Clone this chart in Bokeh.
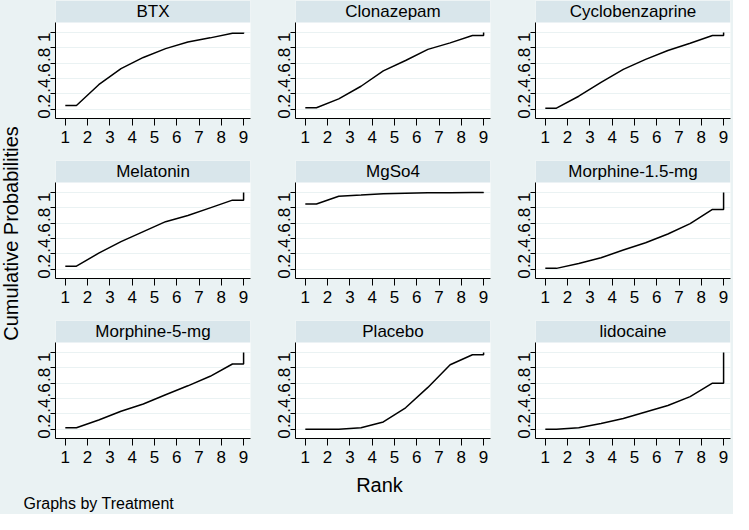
import math
from bokeh.plotting import figure
from bokeh.layouts import row, column
from bokeh.models import FixedTicker, Range1d, Label, BoxAnnotation
from bokeh.embed import file_html
from bokeh.resources import INLINE

# ---- data ----
treatments = ["BTX", "Clonazepam", "Cyclobenzaprine",
              "Melatonin", "MgSo4", "Morphine-1.5-mg",
              "Morphine-5-mg", "Placebo", "lidocaine"]
ranks = [1, 2, 3, 4, 5, 6, 7, 8, 9]
cum_btx = [0.05, 0.32, 0.53, 0.675, 0.79, 0.875, 0.93, 0.99, 1.0]
cum_clonazepam = [0.02, 0.135, 0.30, 0.50, 0.635, 0.78, 0.865, 0.96, 1.0]
cum_cyclobenzaprine = [0.015, 0.17, 0.35, 0.52, 0.65, 0.765, 0.86, 0.96, 1.0]
cum_melatonin = [0.04, 0.21, 0.36, 0.49, 0.62, 0.70, 0.80, 0.90, 1.0]
cum_mgso4 = [0.85, 0.95, 0.966, 0.983, 0.99, 0.995, 0.998, 0.999, 1.0]
cum_morphine15 = [0.012, 0.075, 0.15, 0.25, 0.345, 0.46, 0.595, 0.78, 1.0]
cum_morphine5 = [0.02, 0.12, 0.235, 0.33, 0.45, 0.566, 0.69, 0.85, 1.0]
cum_placebo = [0.0, 0.002, 0.02, 0.095, 0.28, 0.545, 0.84, 0.97, 1.0]
cum_lidocaine = [0.0, 0.02, 0.075, 0.14, 0.225, 0.31, 0.425, 0.60, 1.0]
series = [cum_btx, cum_clonazepam, cum_cyclobenzaprine,
          cum_melatonin, cum_mgso4, cum_morphine15,
          cum_morphine5, cum_placebo, cum_lidocaine]
y_ticks = [0, 0.2, 0.4, 0.6, 0.8, 1]
y_tick_labels = ["0", ".2", ".4", ".6", ".8", "1"]
x_ticks = ranks

# ---- style ----
BG = "#EAF2F3"
BAR = "#D9E6EB"
FONT = "Liberation Sans"

X0, X1 = 0.56, 9.31
Y0, Y1 = -0.12, 1.13
FRAME_H = 96
BAR_H = 22
BAR_TOP = Y1 + (Y1 - Y0) * BAR_H / FRAME_H


def step_path(rk, cum):
    # Stata-style path: flat first half-step, mid-rank points, flat end, jump to 1
    xs = [rk[0]] + [r + 0.5 for r in rk[:-1]] + [rk[-1], rk[-1]]
    ys = [cum[0]] + list(cum[:-1]) + [cum[-2], cum[-1]]
    return xs, ys


def panel(name, cum, ci, ri):
    right = 17 if ci < 2 else 3
    bottom = 42 if ri < 2 else 30
    w = 28 + 195 + right
    h = BAR_H + FRAME_H + bottom
    p = figure(width=w, height=h, output_backend="svg", toolbar_location=None,
               title=None,
               x_range=Range1d(X0, X1), y_range=Range1d(Y0, BAR_TOP),
               min_border_left=28, min_border_right=right,
               min_border_top=0, min_border_bottom=bottom,
               background_fill_color="white", border_fill_color=BG,
               outline_line_color=None)

    p.xaxis.ticker = FixedTicker(ticks=x_ticks)
    p.yaxis.ticker = FixedTicker(ticks=y_ticks)
    p.yaxis.bounds = (Y0, Y1)
    p.yaxis.major_label_overrides = dict(zip(y_ticks, y_tick_labels))
    p.yaxis.major_label_orientation = math.pi / 2
    for ax in (p.xaxis, p.yaxis):
        ax.axis_line_color = "black"
        ax.axis_line_width = 1
        ax.major_tick_line_color = "black"
        ax.major_tick_in = 0
        ax.minor_tick_line_color = None
        ax.major_label_text_font = FONT
        ax.major_label_text_font_size = "17px"
        ax.major_label_text_color = "black"
    p.xaxis.major_tick_out = 7
    p.yaxis.major_tick_out = 5
    p.xaxis.major_label_standoff = 5
    p.yaxis.major_label_standoff = 6
    p.xgrid.visible = False
    p.ygrid.ticker = FixedTicker(ticks=y_ticks)
    p.ygrid.grid_line_color = BG
    p.ygrid.grid_line_width = 1

    # subtitle bar of the panel
    p.add_layout(BoxAnnotation(bottom=Y1, fill_color=BAR, fill_alpha=1.0,
                               line_color=None, level="underlay"))
    p.add_layout(Label(x=(X0 + X1) / 2, y=(Y1 + BAR_TOP) / 2, text=name,
                       text_align="center", text_baseline="middle",
                       text_font=FONT, text_font_size="17px", text_color="black"))

    xs, ys = step_path(ranks, cum)
    p.line(xs, ys, line_color="black", line_width=1.5)
    return p


panels = [panel(n, s, i % 3, i // 3) for i, (n, s) in enumerate(zip(treatments, series))]
sty = {"background-color": BG}
grid = column(row(panels[0:3], styles=sty), row(panels[3:6], styles=sty),
              row(panels[6:9], styles=sty), styles=sty)

grid_h = 2 * (BAR_H + FRAME_H + 42) + (BAR_H + FRAME_H + 30)
ylab = figure(width=27, height=grid_h, output_backend="svg", toolbar_location=None,
              x_range=Range1d(0, 27), y_range=Range1d(0, grid_h),
              x_axis_type=None, y_axis_type=None, min_border=0,
              background_fill_color=BG, border_fill_color=BG, outline_line_color=None)
ylab.grid.visible = False
ylab.add_layout(Label(x=10, y=grid_h - 233, text="Cumulative Probabilities", angle=math.pi / 2,
                      text_align="center", text_baseline="middle", text_font=FONT,
                      text_font_size="20px", text_color="black"))

bot_h = 514 - grid_h
bottom_fig = figure(width=733, height=bot_h, output_backend="svg", toolbar_location=None,
                    x_range=Range1d(0, 733), y_range=Range1d(0, bot_h),
                    x_axis_type=None, y_axis_type=None, min_border=0,
                    background_fill_color=BG, border_fill_color=BG, outline_line_color=None)
bottom_fig.grid.visible = False
bottom_fig.add_layout(Label(x=379, y=bot_h - 16, text="Rank", text_align="center",
                            text_baseline="middle", text_font=FONT, text_font_size="20px",
                            text_color="black"))
bottom_fig.add_layout(Label(x=23, y=11, text="Graphs by Treatment", text_align="left",
                            text_baseline="middle", text_font=FONT, text_font_size="16px",
                            text_color="black"))

layout = column(row(ylab, grid, styles=sty), bottom_fig, styles=sty)

open("out.html", "w").write(file_html(layout, INLINE))
